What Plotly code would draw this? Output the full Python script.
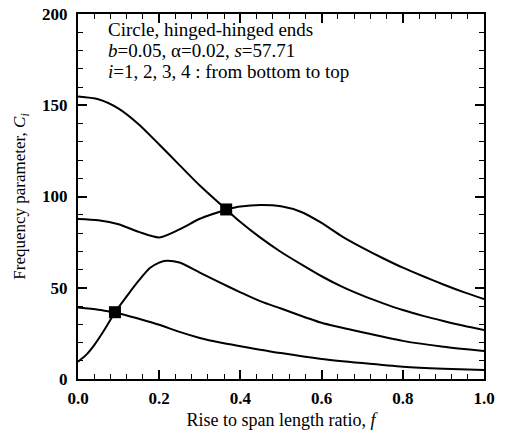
import plotly.graph_objects as go

# Data (f = rise to span ratio, C = frequency parameter)
f1 = [0, 0.02, 0.04, 0.062, 0.091, 0.15, 0.2, 0.25, 0.3, 0.35, 0.4, 0.5, 0.6, 0.7, 0.8, 0.9, 1.0]
c1 = [9.5, 13.2, 18.6, 25.9, 36.6, 33.0, 29.7, 25.8, 22.5, 20.0, 18.0, 14.2, 11.0, 8.7, 6.7, 5.6, 4.9]

f2 = [0, 0.05, 0.091, 0.125, 0.15, 0.177, 0.2, 0.218, 0.25, 0.3, 0.35, 0.4, 0.45, 0.5, 0.6, 0.7, 0.8, 0.9, 1.0]
c2 = [39.2, 38.0, 36.6, 46.8, 54.0, 60.8, 63.8, 64.8, 63.8, 58.3, 52.8, 47.5, 42.5, 38.6, 30.8, 25.6, 20.9, 17.7, 15.4]

f3 = [0, 0.05, 0.1, 0.15, 0.2, 0.25, 0.3, 0.365, 0.4, 0.45, 0.5, 0.55, 0.6, 0.65, 0.7, 0.75, 0.8, 0.85, 0.9, 0.95, 1.0]
c3 = [87.7, 87.0, 84.8, 80.6, 77.6, 82.0, 87.8, 92.9, 86.0, 77.3, 69.6, 62.8, 56.3, 50.6, 45.8, 41.6, 37.8, 34.6, 31.8, 29.2, 26.9]

f4 = [0, 0.05, 0.1, 0.15, 0.2, 0.25, 0.3, 0.365, 0.4, 0.45, 0.5, 0.55, 0.6, 0.65, 0.7, 0.75, 0.8, 0.85, 0.9, 0.95, 1.0]
c4 = [154.8, 153.3, 148.2, 139.5, 128.5, 117.2, 106.0, 92.9, 94.5, 95.3, 94.6, 91.5, 85.5, 78.2, 72.0, 66.3, 61.0, 56.3, 51.8, 47.6, 43.8]

# veering / crossing points
mark_f = [0.091, 0.365]
mark_c = [36.6, 92.9]

x_ticks = [0.0, 0.2, 0.4, 0.6, 0.8, 1.0]
x_tick_text = ["0.0", "0.2", "0.4", "0.6", "0.8", "1.0"]
y_ticks = [0, 50, 100, 150, 200]

FONT = "Liberation Serif"

fig = go.Figure()

curves = [(f1, c1), (f2, c2), (f3, c3), (f4, c4)]
for fx, cy in curves:
    k = next(i for i, v in enumerate(fx) if v in mark_f)
    for seg in ((fx[:k + 1], cy[:k + 1]), (fx[k:], cy[k:])):
        fig.add_trace(go.Scatter(
            x=seg[0], y=seg[1], mode="lines",
            line=dict(color="black", width=2, shape="spline", smoothing=0.7),
            showlegend=False, hoverinfo="skip"))

fig.add_trace(go.Scatter(
    x=mark_f, y=mark_c, mode="markers",
    marker=dict(symbol="square", size=12, color="black"),
    showlegend=False))

ann_lines = [
    "Circle, hinged-hinged ends",
    "<i>b</i>=0.05, α=0.02, <i>s</i>=57.71",
    "<i>i</i>=1, 2, 3, 4 : from bottom to top",
]
ann_py = [29, 50, 71]  # pixel rows of the text lines
for txt, py in zip(ann_lines, ann_py):
    fig.add_annotation(x=0.069, y=(379 - py) / 365.0, xref="x", yref="paper", text=txt,
                       showarrow=False, xanchor="left", yanchor="middle",
                       font=dict(family=FONT, size=19, color="black"))

axis_common = dict(
    showline=True, linecolor="black", linewidth=2, mirror="ticks",
    ticks="inside", ticklen=9, tickwidth=1.5, tickcolor="black",
    showgrid=False, zeroline=False, automargin=False,
    tickfont=dict(family=FONT, size=17, color="black", weight="bold"),
)

fig.update_xaxes(
    range=[0, 1.0], tickvals=x_ticks, ticktext=x_tick_text, ticklabelstandoff=3,
    minor=dict(dtick=0.04, ticks="inside", ticklen=5, tickwidth=1.2, tickcolor="black", showgrid=False),
    title=dict(text="Rise to span length ratio, <i>f</i>",
               font=dict(family=FONT, size=18, color="black"), standoff=6),
    **axis_common)
fig.update_yaxes(
    range=[0, 200], tickvals=y_ticks, ticklabelstandoff=5,
    minor=dict(dtick=10, ticks="inside", ticklen=5, tickwidth=1.2, tickcolor="black", showgrid=False),
    title=dict(text="Frequency parameter, <i>C<sub>i</sub></i>",
               font=dict(family=FONT, size=17, color="black"), standoff=12),
    **axis_common)

fig.update_layout(
    width=506, height=432,
    margin=dict(l=78, r=22, t=14, b=53, autoexpand=False),
    plot_bgcolor="white", paper_bgcolor="white",
    font=dict(family=FONT, color="black"),
)

fig.write_html("out.html")
